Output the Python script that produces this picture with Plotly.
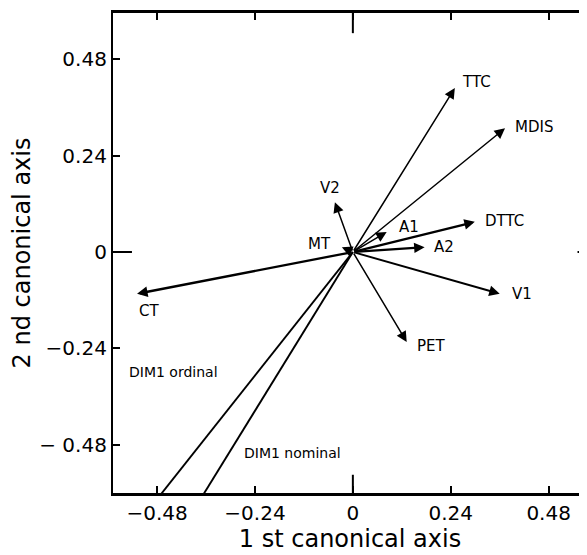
import plotly.graph_objects as go

# Variable vectors (tips of arrows) in canonical space
var_names = ["TTC", "MDIS", "V2", "A1", "DTTC", "A2", "MT", "CT", "V1", "PET"]
var_x = [0.250, 0.373, -0.044, 0.083, 0.299, 0.176, -0.027, -0.529, 0.360, 0.132]
var_y = [0.408, 0.308, 0.124, 0.050, 0.075, 0.012, 0.012, -0.104, -0.104, -0.224]

# DIM1 directions (lines from origin, clipped by the frame)
dim_names = ["DIM1 ordinal", "DIM1 nominal"]
dim_x = [-0.550, -0.428]
dim_y = [-0.705, -0.705]
dim_label_x = [-0.554, -0.272]
dim_label_y = [-0.299, -0.500]

tick_vals = [-0.48, -0.24, 0, 0.24, 0.48]
tick_text = ["\u22120.48", "\u22120.24", "0", "0.24", "0.48"]
ytick_text = ["\u2212 0.48", "\u22120.24", "0", "0.24", "0.48"]

# label style offsets (pixels) : xanchor, xshift, yshift
label_style = {
    "TTC": ("left", 5, 6), "MDIS": ("left", 8, 1), "V2": ("center", -5, 14),
    "A1": ("left", 10, 5), "DTTC": ("left", 8, 1), "A2": ("left", 7, 0),
    "MT": ("right", -9, 3), "CT": ("left", 0, -17), "V1": ("left", 10, 0),
    "PET": ("left", 8, -4),
}
thick = {"CT": 2.3, "DTTC": 2.3, "A2": 2.1, "V1": 1.9}

fig = go.Figure()

for name, x, y in zip(dim_names, dim_x, dim_y):
    fig.add_trace(go.Scatter(x=[0, x], y=[0, y], mode="lines",
                             line=dict(color="black", width=1.9),
                             showlegend=False, hoverinfo="skip"))

annotations = []
for name, x, y in zip(var_names, var_x, var_y):
    w = thick.get(name, 1.5)
    annotations.append(dict(x=x, y=y, ax=0, ay=0, xref="x", yref="y",
                            axref="x", ayref="y", text="", showarrow=True,
                            arrowhead=2, arrowsize=2.1 / w,
                            arrowwidth=w,
                            arrowcolor="black", standoff=0))
    xa, xs, ys = label_style[name]
    annotations.append(dict(x=x, y=y, xref="x", yref="y", text=name,
                            showarrow=False, xanchor=xa, yanchor="middle",
                            xshift=xs, yshift=ys,
                            font=dict(family="DejaVu Sans", size=15, color="black")))

for name, x, y in zip(dim_names, dim_label_x, dim_label_y):
    annotations.append(dict(x=x, y=y, xref="x", yref="y", text=name,
                            showarrow=False, xanchor="left", yanchor="middle",
                            font=dict(family="DejaVu Sans", size=14, color="black")))

shapes = [
    # longer zero ticks
    dict(type="line", xref="x", yref="paper", x0=0, x1=0, y0=0, y1=0.038,
         line=dict(color="black", width=2)),
    dict(type="line", xref="x", yref="paper", x0=0, x1=0, y0=1, y1=0.958,
         line=dict(color="black", width=2)),
    dict(type="line", xref="paper", yref="y", x0=0, x1=0.04, y0=0, y1=0,
         line=dict(color="black", width=2)),
    dict(type="line", xref="paper", yref="y", x0=1, x1=0.98, y0=0, y1=0,
         line=dict(color="black", width=2)),
]

font = dict(family="DejaVu Sans", size=20, color="black")
title_font = dict(family="DejaVu Sans", size=24, color="black")
# page body has an 8px default margin, so the figure is 8px smaller
fig.update_layout(
    width=579, height=547,
    margin=dict(l=105, r=0, t=5, b=62),
    plot_bgcolor="white", paper_bgcolor="white",
    annotations=annotations, shapes=shapes,
    xaxis=dict(range=[-0.588, 0.574], tickvals=tick_vals, ticktext=tick_text,
               ticks="inside", ticklen=7, tickwidth=1.5, tickcolor="black",
               showline=True, linecolor="black", linewidth=2.5, mirror="ticks",
               showgrid=False, zeroline=False, tickfont=font, automargin=False,
               title=dict(text="1 st canonical axis", font=title_font, standoff=2)),
    yaxis=dict(range=[-0.600, 0.595], tickvals=tick_vals, ticktext=ytick_text,
               ticks="inside", ticklen=7, tickwidth=1.5, tickcolor="black",
               showline=True, linecolor="black", linewidth=2.2, mirror=False,
               showgrid=False, zeroline=False, tickfont=font, automargin=False,
               title=dict(text="2 nd canonical axis", font=title_font, standoff=12)),
)

fig.write_html("out.html")
